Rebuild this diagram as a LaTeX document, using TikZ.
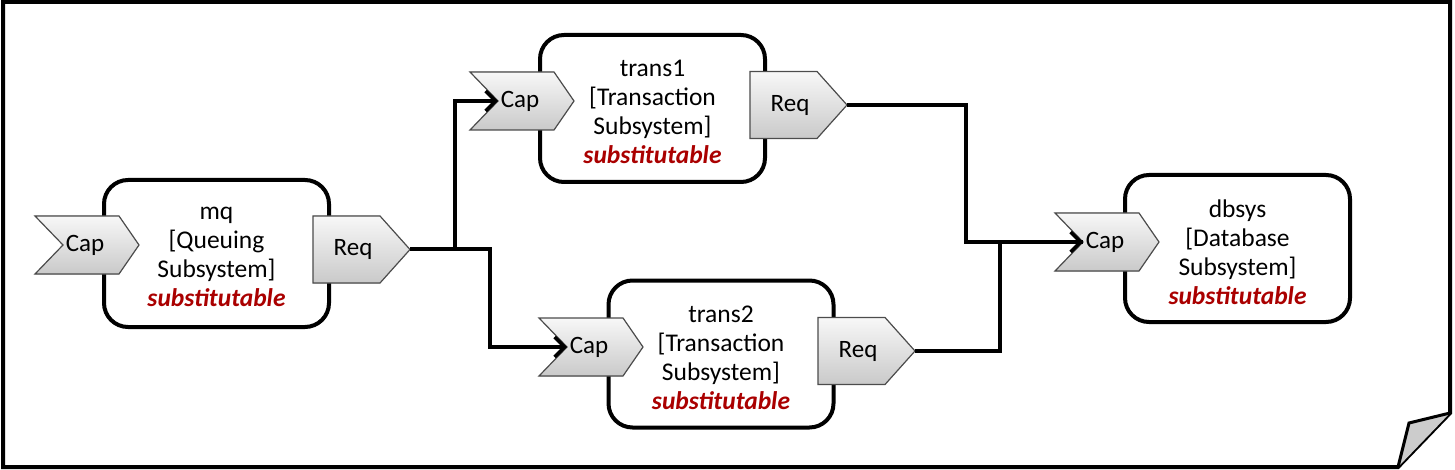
\documentclass[tikz,border=0pt]{standalone}
\usepackage{fontspec}
\setmainfont{Carlito}
\usetikzlibrary{arrows.meta}
\definecolor{subred}{RGB}{170,0,0}
\tikzset{
 sysbox/.style={draw, line width=4pt, rounded corners=24pt, fill=white, minimum width=225pt, minimum height=147pt, inner sep=0pt},
 systext/.style={align=center, font=\fontsize{25.5}{29}\selectfont, inner sep=0pt},
 chev/.style={draw=gray!60!black, line width=1.2pt, top color=gray!6, bottom color=gray!42, line join=miter},
 lbl/.style={font=\fontsize{25}{29}\selectfont, inner sep=0pt},
 conn/.style={line width=4pt, line join=miter},
 arr/.style={conn, -{Straight Barb[length=10pt,width=20pt,line width=3.5pt]}},
 frame/.style={line width=4pt, line join=miter},
}
\newcommand\subst{\textcolor{subred}{\textbf{\textit{substitutable}}}}
\newcommand\capat[3]{%
 \filldraw[chev] (#2,#3-29) -- ++(84,0) -- ++(20,29) -- ++(-20,29) -- ++(-84,0) -- ++(28,-29) -- cycle;
 \coordinate (#1n) at (#2+28,#3);
 \node[lbl] (#1) at (#2+50,#3) {Cap};}
\newcommand\reqat[3]{%
 \filldraw[chev] (#2,#3-33.5) -- ++(67,0) -- ++(30,33.5) -- ++(-30,33.5) -- ++(-67,0) -- cycle;
 \coordinate (#1t) at (#2+97,#3);
 \node[lbl] (#1) at (#2+40,#3) {Req};}
\begin{document}
\begin{tikzpicture}[x=1pt,y=-1pt]
\useasboundingbox (0,0) rectangle (1455,470);
% outer frame with folded corner
\draw[frame] (3,2) -- (1450,2) -- (1450,413) -- (1398,467) -- (3,467) -- cycle;
\filldraw[frame, fill=gray!40, line width=3pt] (1450,413) -- (1409,423) -- (1398,467);
% systems
\node[sysbox] (mq) at (216.5,253.5) {};
\node[systext] (mqtxt) at ([yshift=-3.5pt]mq.center) {mq\\{[}Queuing\\Subsystem]\\\subst};
\node[sysbox] (trans1) at (652.5,108.5) {};
\node[systext] (t1txt) at ([yshift=-3.5pt]trans1.center) {trans1\\{[}Transaction\\Subsystem]\\\subst};
\node[sysbox] (trans2) at (721,354) {};
\node[systext] (t2txt) at ([yshift=-3.5pt]trans2.center) {trans2\\{[}Transaction\\Subsystem]\\\subst};
\node[sysbox] (dbsys) at (1237.5,248.5) {};
\node[systext] (dbtxt) at ([yshift=-3.5pt]dbsys.center) {dbsys\\{[}Database\\Subsystem]\\\subst};
% ports
\capat{cmq}{35}{245}
\reqat{rmq}{313}{249.5}
\capat{ct1}{470}{101}
\reqat{rt1}{750}{105}
\capat{ct2}{539}{347}
\reqat{rt2}{818}{351}
\capat{cdb}{1055}{242}
% connectors
\draw[arr] (rmqt) -- ++(45,0) |- (ct1n);
\draw[arr] (rmqt) -- ++(80,0) |- (ct2n);
\draw[arr] (rt1t) -- ++(119,0) |- (cdbn);
\draw[conn] (rt2t) -- ++(85,0) |- (cdbn);
\end{tikzpicture}
\end{document}
